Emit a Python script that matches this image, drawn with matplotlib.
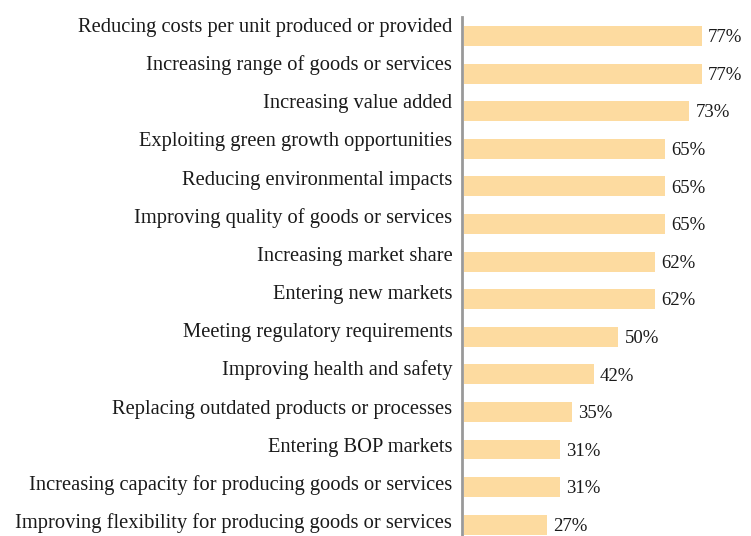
import matplotlib
matplotlib.use('Agg')
import matplotlib.pyplot as plt

categories = [
    'Reducing costs per unit produced or provided',
    'Increasing range of goods or services',
    'Increasing value added',
    'Exploiting green growth opportunities',
    'Reducing environmental impacts',
    'Improving quality of goods or services',
    'Increasing market share',
    'Entering new markets',
    'Meeting regulatory requirements',
    'Improving health and safety',
    'Replacing outdated products or processes',
    'Entering BOP markets',
    'Increasing capacity for producing goods or services',
    'Improving flexibility for producing goods or services',
]
values = [77, 77, 73, 65, 65, 65, 62, 62, 50, 42, 35, 31, 31, 27]

plt.rcParams['font.family'] = ['Liberation Serif', 'DejaVu Serif']

fig = plt.figure(figsize=(7.51, 5.36), dpi=100)
rect = [462 / 751, 0, 1 - 462 / 751, 1 - 17 / 536]
ax = fig.add_axes(rect)

pos = list(range(len(categories)))
ax.barh(pos, values, height=0.53, color='#FDDBA0', left=0.6)
for p, v in zip(pos, values):
    ax.annotate(f'{v}%', (v + 0.6, p), xytext=(4.5, -4.5), textcoords='offset points',
                va='baseline', ha='left', fontsize=13.5, color='#1a1a1a')

ax.set_xlim(0, 93.5)
ax.set_ylim(13.30, -0.505)
ax.set_yticks([])
ax.set_xticks([])
for s in ['top', 'right', 'bottom']:
    ax.spines[s].set_visible(False)
ax.spines['left'].set_color('#999999')
ax.spines['left'].set_linewidth(2)

# labels sit on their own scale (slightly wider spacing than bars)
lab = fig.add_axes(rect, frameon=False)
lab.set_xlim(0, 1)
lab.set_ylim(13.21, -0.393)
lab.set_xticks([])
lab.set_yticks(pos)
lab.set_yticklabels(categories, fontsize=14.8, color='#1a1a1a', va='baseline')
lab.tick_params(axis='y', length=0, pad=7)

fig.savefig('out.png', dpi=100)
